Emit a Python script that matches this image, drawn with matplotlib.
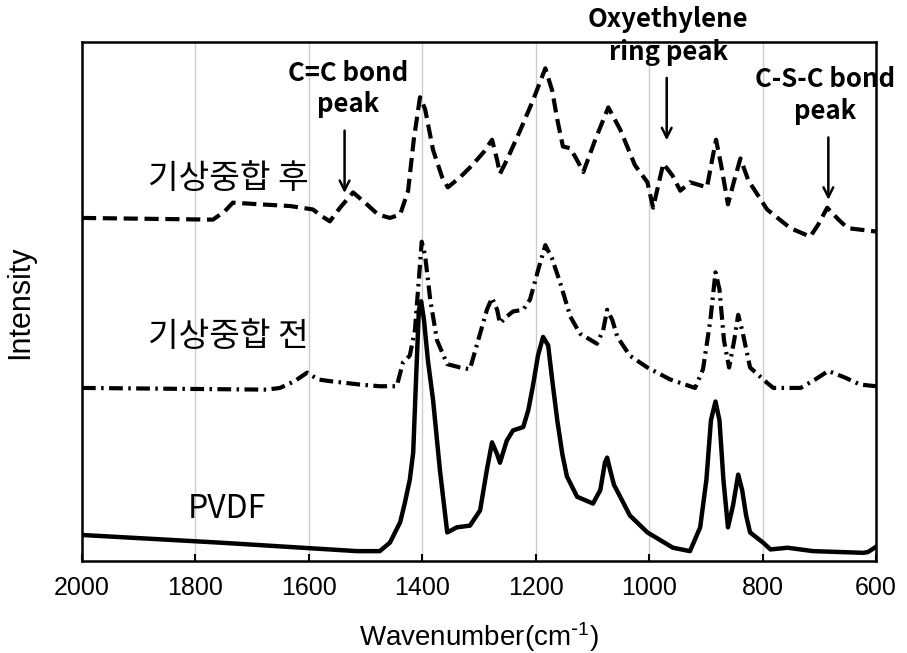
import matplotlib
matplotlib.use("Agg")
import matplotlib.pyplot as plt

plt.rcParams['font.family'] = ['Liberation Sans', 'Noto Sans CJK KR', 'DejaVu Sans']
plt.rcParams['mathtext.default'] = 'regular'

# wavenumber (cm-1) and intensity (a.u., curves offset by 1)
wn_after = [2000, 1769, 1748, 1734, 1686, 1633, 1593, 1577, 1563, 1545, 1522, 1501, 1478, 1457, 1439, 1425,
            1415, 1404, 1395, 1381, 1365, 1355, 1333, 1312, 1291, 1277, 1268, 1263, 1251, 1228, 1205, 1183,
            1171, 1162, 1152, 1139, 1127, 1116, 1095, 1072, 1051, 1025, 1003, 993, 975, 959, 945, 928,
            898, 889, 882, 873, 861, 850, 839, 825, 792, 751, 716, 702, 686, 666, 650, 600]
int_after = [2.00, 1.99, 2.04, 2.09, 2.08, 2.07, 2.05, 2.01, 1.98, 2.06, 2.15, 2.09, 2.02, 2.00, 2.02, 2.16,
             2.46, 2.71, 2.64, 2.40, 2.24, 2.18, 2.24, 2.31, 2.39, 2.46, 2.34, 2.26, 2.34, 2.51, 2.69, 2.88,
             2.75, 2.58, 2.42, 2.41, 2.34, 2.27, 2.46, 2.65, 2.52, 2.31, 2.21, 2.06, 2.32, 2.25, 2.16, 2.21,
             2.18, 2.34, 2.46, 2.31, 2.08, 2.22, 2.35, 2.22, 2.05, 1.94, 1.89, 1.96, 2.06, 1.99, 1.94, 1.92]

wn_before = [2000, 1674, 1651, 1625, 1603, 1584, 1563, 1510, 1475, 1445, 1434, 1422, 1413, 1406, 1401, 1395,
             1386, 1374, 1356, 1333, 1316, 1298, 1286, 1277, 1268, 1263, 1251, 1240, 1222, 1210, 1196, 1183,
             1171, 1157, 1139, 1122, 1092, 1081, 1074, 1065, 1056, 1034, 1003, 963, 919, 905, 892, 883,
             876, 868, 859, 850, 843, 836, 822, 792, 781, 733, 707, 684, 654, 628, 600]
int_before = [1.00, 0.99, 1.00, 1.04, 1.09, 1.05, 1.04, 1.02, 1.01, 1.01, 1.15, 1.19, 1.34, 1.64, 1.86, 1.78,
              1.52, 1.28, 1.14, 1.12, 1.11, 1.32, 1.46, 1.53, 1.46, 1.38, 1.42, 1.45, 1.46, 1.52, 1.69, 1.84,
              1.76, 1.62, 1.42, 1.32, 1.26, 1.34, 1.46, 1.40, 1.30, 1.19, 1.12, 1.05, 1.00, 1.11, 1.40, 1.68,
              1.58, 1.28, 1.12, 1.28, 1.43, 1.34, 1.12, 1.03, 1.00, 1.00, 1.05, 1.10, 1.06, 1.02, 1.01]

wn_pvdf = [2000, 1757, 1515, 1475, 1457, 1439, 1431, 1422, 1416, 1411, 1406, 1402, 1397, 1390, 1381, 1369,
           1356, 1339, 1316, 1298, 1286, 1277, 1268, 1263, 1251, 1240, 1222, 1213, 1205, 1196, 1187, 1178,
           1171, 1162, 1153, 1145, 1127, 1099, 1086, 1078, 1074, 1069, 1062, 1051, 1034, 1003, 958, 928,
           910, 899, 891, 883, 876, 869, 861, 852, 843, 836, 829, 822, 799, 786, 756, 711, 622, 614, 600]
int_pvdf = [0.135, 0.09, 0.04, 0.04, 0.09, 0.21, 0.32, 0.46, 0.62, 1.05, 1.46, 1.51, 1.40, 1.16, 0.93, 0.52,
            0.15, 0.18, 0.19, 0.28, 0.52, 0.68, 0.61, 0.56, 0.69, 0.75, 0.77, 0.87, 1.01, 1.19, 1.30, 1.25,
            1.05, 0.81, 0.61, 0.48, 0.36, 0.32, 0.40, 0.56, 0.59, 0.52, 0.43, 0.36, 0.25, 0.15, 0.06, 0.04,
            0.18, 0.46, 0.81, 0.92, 0.81, 0.46, 0.18, 0.31, 0.49, 0.40, 0.25, 0.15, 0.09, 0.05, 0.06, 0.04,
            0.03, 0.035, 0.065]

x_ticks = [2000, 1800, 1600, 1400, 1200, 1000, 800, 600]

fig = plt.figure(figsize=(9.07, 6.53), dpi=100)
ax = fig.add_axes([0.0904, 0.1409, 0.8754, 0.7948])

ax.plot(wn_pvdf, int_pvdf, color='black', lw=3.2, solid_joinstyle='round')
l1, = ax.plot(wn_before, int_before, color='black', lw=3.0)
l1.set_dashes([3.3, 1.3, 0.6, 1.3])
l2, = ax.plot(wn_after, int_after, color='black', lw=3.0)
l2.set_dashes([3.4, 1.6])

ax.set_xlim(2000, 600)
ax.set_ylim(-0.018, 3.035)
ax.set_xticks(x_ticks)
ax.set_yticks([])
ax.grid(axis='x', color='#cccccc', lw=1.0)
ax.set_axisbelow(True)
ax.tick_params(axis='x', direction='in', length=5, width=1.5, labelsize=18, pad=11)
for s in ax.spines.values():
    s.set_linewidth(1.8)

ax.set_xlabel(r'Wavenumber(cm$^{\text{-}1}$)', fontsize=20, va='center')
ax.xaxis.set_label_coords(0.5, -0.146)
ax.set_ylabel('Intensity', fontsize=22, va='center')
ax.yaxis.set_label_coords(-0.078, 0.499)

kor = ['Noto Sans CJK KR', 'DejaVu Sans']
ax.text(1884, 2.23, '기상중합 후', fontsize=24, family=kor, ha='left', va='center')
ax.text(1884, 1.30, '기상중합 전', fontsize=24, family=kor, ha='left', va='center')
ax.text(1813, 0.29, 'PVDF', fontsize=23, family=kor, ha='left', va='center')

arrow = dict(arrowstyle='->,head_length=0.7,head_width=0.35', color='black', lw=1.8)
ax.text(1531, 2.76, 'C=C bond\npeak', fontsize=18.5, family=kor, weight='bold',
        ha='center', va='center', linespacing=1.2)
ax.annotate('', xy=(1537, 2.13), xytext=(1537, 2.53), arrowprops=arrow)
ax.text(966, 3.07, 'Oxyethylene\nring peak', fontsize=18.5, family=kor, weight='bold',
        ha='center', va='center', linespacing=1.25, clip_on=False)
ax.annotate('', xy=(969, 2.44), xytext=(969, 2.84), arrowprops=arrow)
ax.text(690, 2.72, 'C-S-C bond\npeak', fontsize=18.5, family=kor, weight='bold',
        ha='center', va='center', linespacing=1.2, clip_on=False)
ax.annotate('', xy=(684, 2.09), xytext=(684, 2.49), arrowprops=arrow)

fig.savefig('out.png', dpi=100)
